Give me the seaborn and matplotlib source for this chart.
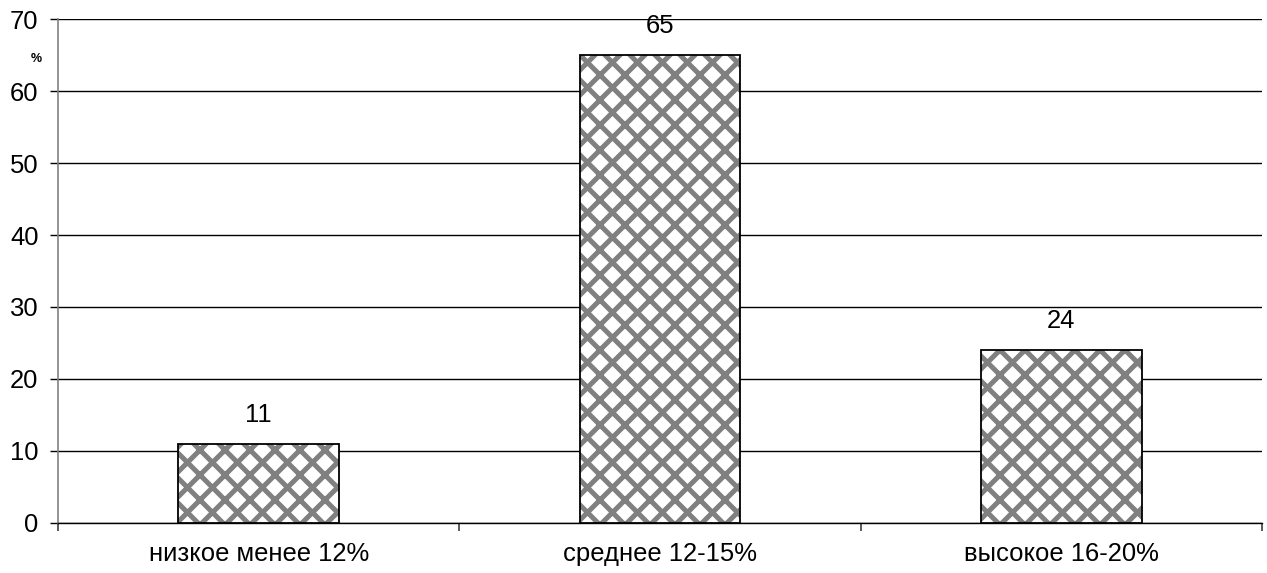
import pandas as pd
import matplotlib
matplotlib.use("Agg")
import matplotlib.pyplot as plt
from matplotlib.patches import Rectangle
import seaborn as sns

categories = ["низкое менее 12%", "среднее 12-15%", "высокое 16-20%"]
values = [11, 65, 24]

df = pd.DataFrame({"group": categories, "percent": values})

DPI = 150
k = 100 / DPI  # sizes below were tuned for 100 dpi

sns.set_style("white")
plt.rcParams['font.family'] = ['Liberation Sans', 'DejaVu Sans']
plt.rcParams['text.color'] = 'black'
plt.rcParams['xtick.color'] = 'black'
plt.rcParams['ytick.color'] = 'black'
plt.rcParams['hatch.linewidth'] = 2.4

fig = plt.figure(figsize=(1267 / DPI, 573 / DPI), dpi=DPI)
ax = fig.add_axes([0.0458, 0.0873, 0.9502, 0.8795])

# hatched fill (gray diamonds), outline drawn separately in black
sns.barplot(data=df, x="group", y="percent", color="white", width=0.4,
            edgecolor="#808080", linewidth=0, hatch="xx", ax=ax, zorder=3)
for p in list(ax.patches):
    ax.add_patch(Rectangle(p.get_xy(), p.get_width(), p.get_height(),
                           fill=False, edgecolor="black", linewidth=1.3 * k, zorder=4))

for i, v in enumerate(values):
    ax.text(i, v + 2.4, f"{v}", ha="center", va="bottom", fontsize=18.5 * k, zorder=5)

ax.set_ylim(0, 70)
ax.set_xlim(-0.5, 2.5)
ax.set_yticks(range(0, 71, 10))
ax.yaxis.grid(True, color="black", linewidth=1.0 * k, zorder=0)
ax.set_axisbelow(True)
ax.set_xticks([-0.5, 0.5, 1.5, 2.5])
ax.set_xticklabels([])
ax.set_xticks([0, 1, 2], minor=True)
ax.set_xticklabels(categories, minor=True, fontsize=18.5 * k)
ax.tick_params(axis="x", which="minor", bottom=False, length=0, pad=14 * k)
ax.tick_params(axis="x", which="major", bottom=True, length=6 * k, color="#404040", width=1.2 * k)
ax.tick_params(axis="y", left=True, length=6 * k, color="black", width=1.0 * k,
               labelsize=18.5 * k, pad=8 * k)
ax.set_xlabel("")
ax.set_ylabel("")

for s in ["top", "right"]:
    ax.spines[s].set_visible(False)
ax.spines["left"].set_color("#808080")
ax.spines["left"].set_linewidth(1.2 * k)
ax.spines["bottom"].set_color("black")
ax.spines["bottom"].set_linewidth(1.0 * k)

fig.text(0.0285, 0.897, "%", fontsize=9 * k, fontweight="bold", ha="center", va="center")

fig.savefig("out.png", dpi=DPI)
